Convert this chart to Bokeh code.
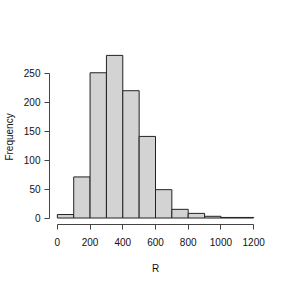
from bokeh.plotting import figure
from bokeh.models import Range1d, FixedTicker
from bokeh.embed import file_html
from bokeh.resources import INLINE

# Histogram data (bin edges of width 100, counts)
bin_left = [0, 100, 200, 300, 400, 500, 600, 700, 800, 900, 1000, 1100]
bin_right = [100, 200, 300, 400, 500, 600, 700, 800, 900, 1000, 1100, 1200]
counts = [6, 71, 251, 281, 220, 141, 49, 15, 8, 3, 1, 1]
x_ticks = [0, 200, 400, 600, 800, 1000, 1200]
y_ticks = [0, 50, 100, 150, 200, 250]

FONT = "Liberation Sans"

p = figure(frame_width=212, frame_height=175, output_backend="svg", toolbar_location=None,
           x_range=Range1d(-48, 1248), y_range=Range1d(-11.2, 291.2),
           min_border_left=41, min_border_right=17, min_border_top=49, min_border_bottom=46)
p.outline_line_color = None
p.xgrid.visible = False
p.ygrid.visible = False
p.background_fill_color = "white"
p.border_fill_color = "white"

p.quad(left=bin_left, right=bin_right, bottom=0, top=counts,
       fill_color="#D3D3D3", line_color="#222222", line_width=1)

for ax, ticks in ((p.xaxis[0], x_ticks), (p.yaxis[0], y_ticks)):
    ax.ticker = FixedTicker(ticks=ticks)
    ax.bounds = (ticks[0], ticks[-1])
    ax.axis_line_color = "#444444"
    ax.major_tick_line_color = "#444444"
    ax.major_tick_out = 5
    ax.major_tick_in = 0
    ax.minor_tick_line_color = None
    ax.major_label_text_font = FONT
    ax.major_label_text_font_size = "10px"
    ax.major_label_text_color = "#111111"
    ax.axis_label_text_font = FONT
    ax.axis_label_text_font_size = "10px"
    ax.axis_label_text_font_style = "normal"
    ax.axis_label_text_color = "#111111"

p.xaxis.axis_label = "R"
p.yaxis.axis_label = "Frequency"
p.xaxis.major_label_standoff = 8
p.xaxis.axis_label_standoff = 14
p.yaxis.major_label_standoff = 4
p.yaxis.axis_label_standoff = 6
p.yaxis.major_label_orientation = "horizontal"

open("out.html", "w").write(file_html(p, INLINE))
